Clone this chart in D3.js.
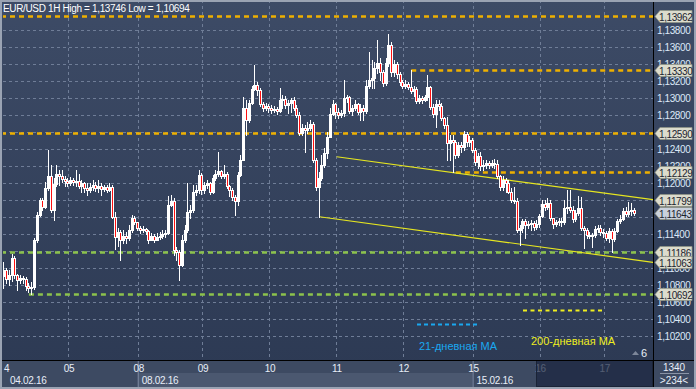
<!DOCTYPE html>
<html>
<head>
<meta charset="utf-8">
<script src="https://cdn.jsdelivr.net/npm/d3@7"></script>
<style>
  html, body { margin: 0; padding: 0; background: #2f3c55; }
  svg text { font-family: "Liberation Sans", Arial, sans-serif; }
</style>
</head>
<body>
<div id="chart"></div>
<script>
// ---- data (EUR/USD, 1H bars, 04.02.16 - 17.02.16) ----
const firstOpen = 1.1090;

const closes = [
  // 04
  1.1097,1.1087,1.1091,1.1111,1.1091,1.1086,1.1088,1.1087,1.1078,1.1076,1.1077,1.1133,1.1162,1.1180,1.1171,1.1194,1.1208,1.1168,1.1199,1.1210,1.1208,1.1204,1.1202,
  // 05
  1.1200,1.1203,1.1201,1.1202,1.1196,1.1200,1.1194,1.1191,1.1195,1.1197,1.1194,1.1196,1.1193,1.1195,1.1191,1.1195,1.1160,1.1136,1.1142,1.1133,1.1137,1.1135,1.1144,1.1159,1.1154,
  // 08
  1.1147,1.1144,1.1146,1.1143,1.1133,1.1137,1.1133,1.1136,1.1137,1.1140,1.1141,1.1174,1.1179,1.1121,1.1119,1.1103,1.1133,1.1144,1.1166,1.1168,1.1189,1.1191,1.1209,
  // 09
  1.1191,1.1197,1.1200,1.1189,1.1206,1.1210,1.1214,1.1208,1.1210,1.1196,1.1191,1.1183,1.1179,1.1209,1.1227,1.1288,1.1274,1.1294,1.1310,1.1315,1.1309,1.1293,1.1288,1.1290,
  // 10
  1.1288,1.1286,1.1287,1.1284,1.1297,1.1299,1.1291,1.1294,1.1297,1.1288,1.1280,1.1259,1.1264,1.1262,1.1264,1.1269,1.1227,1.1195,1.1206,1.1221,1.1235,1.1254,1.1281,1.1293,
  // 11
  1.1283,1.1280,1.1282,1.1300,1.1301,1.1284,1.1288,1.1293,1.1283,1.1288,1.1284,1.1314,1.1321,1.1323,1.1335,1.1341,1.1330,1.1317,1.1341,1.1362,1.1330,1.1340,1.1328,1.1319,
  // 12
  1.1314,1.1316,1.1313,1.1308,1.1310,1.1296,1.1300,1.1297,1.1301,1.1313,1.1289,1.1281,1.1293,1.1290,1.1276,1.1268,1.1247,1.1250,1.1248,1.1233,1.1244,1.1242,1.1257,1.1248,1.1250,
  // 15
  1.1239,1.1224,1.1231,1.1220,1.1221,1.1223,1.1221,1.1223,1.1222,1.1208,1.1195,1.1203,1.1200,1.1189,1.1180,1.1179,1.1144,1.1147,1.1155,1.1150,1.1151,1.1153,1.1148,1.1151,
  // 16
  1.1161,1.1175,1.1171,1.1176,1.1159,1.1151,1.1154,1.1155,1.1154,1.1170,1.1171,1.1168,1.1157,1.1164,1.1170,1.1147,1.1144,1.1139,1.1137,1.1139,1.1146,1.1147,1.1142,
  // 17
  1.1141,1.1135,1.1143,1.1134,1.1143,1.1155,1.1157,1.1167,1.1163,1.1167,1.1168,1.11643
];

const highs = [
  1.1107,1.1100,1.1097,1.1116,1.1114,1.1093,1.1091,1.1090,1.1089,1.1082,1.1083,1.1135,1.1166,1.1182,1.1182,1.1201,1.1239,1.1221,1.1206,1.1221,1.1215,1.1215,1.1208,
  1.1206,1.1207,1.1206,1.1215,1.1210,1.1203,1.1201,1.1200,1.1200,1.1203,1.1201,1.1203,1.1200,1.1197,1.1197,1.1200,1.1197,1.1166,1.1147,1.1144,1.1144,1.1142,1.1150,1.1162,1.1161,
  1.1154,1.1149,1.1149,1.1147,1.1144,1.1141,1.1140,1.1141,1.1142,1.1144,1.1144,1.1184,1.1186,1.1182,1.1124,1.1121,1.1139,1.1150,1.1200,1.1174,1.1197,1.1197,1.1215,
  1.1211,1.1201,1.1203,1.1201,1.1209,1.1215,1.1236,1.1215,1.1221,1.1213,1.1197,1.1194,1.1186,1.1213,1.1233,1.1301,1.1297,1.1297,1.1314,1.1339,1.1319,1.1311,1.1295,1.1294,
  1.1293,1.1291,1.1290,1.1289,1.1311,1.1303,1.1302,1.1297,1.1300,1.1301,1.1291,1.1283,1.1269,1.1268,1.1271,1.1274,1.1271,1.1229,1.1213,1.1233,1.1241,1.1260,1.1288,1.1297,
  1.1294,1.1288,1.1286,1.1321,1.1303,1.1302,1.1291,1.1297,1.1294,1.1293,1.1291,1.1321,1.1354,1.1344,1.1342,1.1368,1.1347,1.1333,1.1347,1.1375,1.1366,1.1344,1.1342,1.1330,
  1.1321,1.1321,1.1319,1.1333,1.1314,1.1313,1.1303,1.1302,1.1303,1.1327,1.1314,1.1293,1.1297,1.1297,1.1294,1.1277,1.1277,1.1256,1.1256,1.1250,1.1248,1.1248,1.1261,1.1260,1.1255,
  1.1253,1.1241,1.1235,1.1236,1.1227,1.1227,1.1226,1.1227,1.1228,1.1227,1.1209,1.1208,1.1206,1.1203,1.1194,1.1195,1.1182,1.1150,1.1157,1.1157,1.1155,1.1156,1.1155,1.1156,
  1.1163,1.1180,1.1180,1.1182,1.1180,1.1159,1.1156,1.1159,1.1159,1.1180,1.1191,1.1191,1.1173,1.1168,1.1184,1.1183,1.1149,1.1147,1.1142,1.1141,1.1149,1.1150,1.1150,
  1.1146,1.1143,1.1147,1.1146,1.1147,1.1157,1.1162,1.1170,1.1171,1.1177,1.1176,1.1170
];

const lows = [
  1.1076,1.1082,1.1080,1.1084,1.1088,1.1074,1.1082,1.1082,1.1074,1.1071,1.1069,1.1075,1.1130,1.1161,1.1168,1.1170,1.1191,1.1166,1.1156,1.1196,1.1197,1.1201,1.1196,
  1.1196,1.1197,1.1197,1.1196,1.1194,1.1189,1.1189,1.1186,1.1189,1.1191,1.1190,1.1189,1.1186,1.1190,1.1189,1.1190,1.1159,1.1122,1.1126,1.1109,1.1129,1.1129,1.1133,1.1142,1.1151,
  1.1144,1.1141,1.1142,1.1140,1.1129,1.1133,1.1130,1.1133,1.1134,1.1135,1.1136,1.1140,1.1173,1.1115,1.1109,1.1086,1.1102,1.1130,1.1142,1.1159,1.1166,1.1186,1.1188,
  1.1187,1.1188,1.1194,1.1187,1.1188,1.1203,1.1208,1.1206,1.1206,1.1194,1.1184,1.1180,1.1162,1.1174,1.1208,1.1227,1.1256,1.1271,1.1293,1.1309,1.1303,1.1290,1.1284,1.1286,
  1.1283,1.1282,1.1283,1.1281,1.1283,1.1288,1.1288,1.1282,1.1283,1.1286,1.1277,1.1256,1.1256,1.1236,1.1259,1.1262,1.1224,1.1191,1.1160,1.1203,1.1219,1.1229,1.1254,1.1280,
  1.1276,1.1276,1.1277,1.1279,1.1295,1.1282,1.1280,1.1286,1.1281,1.1274,1.1274,1.1282,1.1311,1.1311,1.1311,1.1329,1.1321,1.1314,1.1315,1.1337,1.1326,1.1326,1.1323,1.1315,
  1.1311,1.1311,1.1310,1.1306,1.1302,1.1294,1.1294,1.1294,1.1296,1.1297,1.1287,1.1277,1.1266,1.1286,1.1274,1.1264,1.1227,1.1227,1.1213,1.1229,1.1230,1.1236,1.1239,1.1243,1.1243,
  1.1236,1.1221,1.1217,1.1215,1.1215,1.1217,1.1217,1.1219,1.1217,1.1206,1.1191,1.1191,1.1189,1.1188,1.1177,1.1176,1.1142,1.1127,1.1142,1.1135,1.1147,1.1144,1.1144,1.1146,
  1.1148,1.1160,1.1168,1.1169,1.1156,1.1147,1.1149,1.1150,1.1149,1.1151,1.1164,1.1166,1.1154,1.1155,1.1162,1.1144,1.1123,1.1135,1.1135,1.1124,1.1136,1.1142,1.1139,
  1.1136,1.1133,1.1130,1.1119,1.1131,1.1142,1.1153,1.1156,1.1161,1.1161,1.1162,1.1162
];

// day starts (bar index) and labels as shown on the axis
const dayStarts = [0, 24, 49, 72, 96, 120, 144, 169, 193, 216];
const dayLabels = ["4", "05", "08", "09", "10", "11", "12", "15", "16", "17"];
const dateLabels = [{i: 0, t: "04.02.16"}, {i: 49, t: "08.02.16"}, {i: 169, t: "15.02.16"}];

const priceTicks = d3.range(1.102, 1.1385, 0.002);

// horizontal levels: value + first bar
const orangeLevels = [{v: 1.13962, from: 0}, {v: 1.13330, from: 147}, {v: 1.12590, from: 0}, {v: 1.12129, from: 163}];
const greenLevels = [{v: 1.11186, from: 0}, {v: 1.10692, from: 10}];

// trend channel
const channelUpper = [[120.3, 1.12306], [234, 1.11799]];
const channelLower = [[114.1, 1.11600], [234, 1.11063]];

const tagLevels = [1.13962, 1.13330, 1.12590, 1.12129, 1.11799, 1.11186, 1.11063, 1.10692];
const lastPrice = 1.11643;

// ---- layout ----
const W = 696, H = 389;
const plotRight = 653, plotBottom = 360;

const svg = d3.select("#chart").append("svg")
  .attr("width", W).attr("height", H)
  .style("display", "block");

const defs = svg.append("defs");
const bg = defs.append("linearGradient").attr("id", "bg").attr("x1", 0).attr("y1", 0).attr("x2", 0).attr("y2", 1);
bg.append("stop").attr("offset", "0%").attr("stop-color", "#3d4b66");
bg.append("stop").attr("offset", "100%").attr("stop-color", "#2c3953");

defs.append("clipPath").attr("id", "plotClip")
  .append("rect").attr("x", 3).attr("y", 0).attr("width", plotRight - 3).attr("height", plotBottom);

svg.append("rect").attr("width", W).attr("height", H).attr("fill", "url(#bg)");

const x = d3.scaleLinear().domain([0, 234]).range([1, 654]);
const y = d3.scaleLinear().domain([1.10, 1.14]).range([352.77, 12.77]);

const plot = svg.append("g").attr("clip-path", "url(#plotClip)");

// grid
plot.append("g").selectAll("line")
  .data(priceTicks)
  .join("line")
  .attr("x1", 3).attr("x2", plotRight)
  .attr("y1", d => Math.round(y(d)) + 0.5).attr("y2", d => Math.round(y(d)) + 0.5)
  .attr("stroke", "#6f7d97").attr("stroke-dasharray", "3,3");

plot.append("g").selectAll("line")
  .data(dayStarts.slice(1))
  .join("line")
  .attr("x1", d => Math.round(x(d)) + 0.5).attr("x2", d => Math.round(x(d)) + 0.5)
  .attr("y1", 0).attr("y2", plotBottom)
  .attr("stroke", "#6f7d97").attr("stroke-dasharray", "3,3");

// level lines
function levelLines(data, color) {
  plot.append("g").selectAll("line")
    .data(data)
    .join("line")
    .attr("x1", d => x(d.from)).attr("x2", plotRight)
    .attr("y1", d => Math.round(y(d.v)) + 0.5).attr("y2", d => Math.round(y(d.v)) + 0.5)
    .attr("stroke", color).attr("stroke-width", 2.5).attr("stroke-dasharray", "5,4");
}
levelLines(orangeLevels, "#eeb000");
levelLines(greenLevels, "#8cc24c");

// channel
const chLine = d3.line().x(d => x(d[0])).y(d => y(d[1]));
[channelUpper, channelLower].forEach(c => {
  plot.append("path").attr("d", chLine(c))
    .attr("fill", "none").attr("stroke", "#e6e620").attr("stroke-width", 1.2);
});

// candles
const bars = closes.map((c, i) => ({
  i: i + 1,
  o: i === 0 ? firstOpen : closes[i - 1],
  h: highs[i], l: lows[i], c: c
}));

const cg = plot.append("g");
cg.selectAll("line")
  .data(bars)
  .join("line")
  .attr("x1", d => Math.floor(x(d.i)) + 0.5).attr("x2", d => Math.floor(x(d.i)) + 0.5)
  .attr("y1", d => Math.round(y(d.h))).attr("y2", d => Math.round(y(d.l)) + 1)
  .attr("stroke", "#ffffff").attr("shape-rendering", "crispEdges");

cg.selectAll("rect")
  .data(bars)
  .join("rect")
  .attr("x", d => Math.floor(x(d.i)) - 0.5)
  .attr("width", 2)
  .attr("y", d => Math.round(y(Math.max(d.o, d.c))) + 0.5)
  .attr("height", d => Math.max(0, Math.round(y(Math.min(d.o, d.c))) - Math.round(y(Math.max(d.o, d.c)))))
  .attr("fill", d => d.c < d.o ? "#ff1010" : "#ffffff")
  .attr("stroke", "#ffffff").attr("stroke-width", 1)
  .attr("shape-rendering", "crispEdges");

// title
svg.append("text").attr("x", 3).attr("y", 12)
  .attr("font-size", 10).attr("letter-spacing", -0.35)
  .attr("fill", "#ffffff")
  .text("EUR/USD 1H High = 1,13746 Low = 1,10694");

// legend
svg.append("line").attr("x1", 417).attr("x2", 478).attr("y1", 324.5).attr("y2", 324.5)
  .attr("stroke", "#1aa8f0").attr("stroke-width", 2).attr("stroke-dasharray", "4,3");
svg.append("text").attr("x", 419).attr("y", 350).attr("font-size", 11).attr("fill", "#1aa8f0")
  .text("21-дневная МА");
svg.append("line").attr("x1", 523).attr("x2", 604).attr("y1", 310.5).attr("y2", 310.5)
  .attr("stroke", "#f0ee20").attr("stroke-width", 2).attr("stroke-dasharray", "4,3.5");
svg.append("text").attr("x", 531).attr("y", 345).attr("font-size", 11).attr("fill", "#f0ee20")
  .text("200-дневная МА");

// scroll marker
svg.append("path").attr("d", "M632,355 L635.5,351 L639,355 Z").attr("fill", "#7d879a");
svg.append("text").attr("x", 641).attr("y", 357).attr("font-size", 11).attr("fill", "#e8eef8").text("6");

// ---- price axis ----
const fmt = v => d3.format(".5f")(v).replace(".", ",");

// labels sitting right under a tag are hidden by it
const visibleTicks = priceTicks.filter(t =>
  !tagLevels.concat([lastPrice]).some(v => Math.abs(y(v) - y(t)) < 4));

svg.append("g").selectAll("text")
  .data(visibleTicks)
  .join("text")
  .attr("x", 657).attr("y", d => y(d) + 4)
  .attr("font-size", 10).attr("letter-spacing", -0.4)
  .attr("fill", "#dce8f8")
  .text(fmt);

function tag(v, fill) {
  const yy = Math.round(y(v)) + 0.5;
  const g = svg.append("g");
  g.append("path")
    .attr("d", `M655,${yy} L660,${yy - 6} L692,${yy - 6} L692,${yy + 6} L660,${yy + 6} Z`)
    .attr("fill", fill).attr("stroke", "#8f9486").attr("stroke-width", 0.8);
  g.append("text").attr("x", 659).attr("y", yy + 4)
    .attr("font-size", 10).attr("letter-spacing", -0.4)
    .attr("fill", "#1c2430").text(fmt(v));
}
tagLevels.forEach(v => tag(v, "#dcdccd"));
tag(lastPrice, "#c9d1dc");

// ---- time axis ----
svg.append("rect").attr("x", 0).attr("y", plotBottom).attr("width", plotRight).attr("height", 29).attr("fill", "#3d4a62");
svg.append("rect").attr("x", x(49)).attr("y", 373).attr("width", x(169) - x(49)).attr("height", 14).attr("fill", "#4b5870");
svg.append("line").attr("x1", x(49) + 0.5).attr("x2", x(49) + 0.5).attr("y1", 361).attr("y2", 387).attr("stroke", "#7d8aa2");
svg.append("line").attr("x1", x(169) + 0.5).attr("x2", x(169) + 0.5).attr("y1", 361).attr("y2", 387).attr("stroke", "#7d8aa2");

const ax = svg.append("g");
ax.selectAll("text.day")
  .data(dayStarts)
  .join("text")
  .attr("class", "day")
  .attr("x", d => d === 0 ? 4 : x(d) + 1).attr("y", 372)
  .attr("text-anchor", d => d === 0 ? "start" : "middle")
  .attr("font-size", 10).attr("letter-spacing", -0.3)
  .attr("fill", "#e8eef8")
  .text((d, i) => dayLabels[i]);

ax.selectAll("text.date")
  .data(dateLabels)
  .join("text")
  .attr("class", "date")
  .attr("x", d => x(d.i) + (d.i === 0 ? 9 : 4)).attr("y", 384)
  .attr("font-size", 10).attr("letter-spacing", -0.3)
  .attr("fill", "#e8eef8")
  .text(d => d.t);

// dimmed box over the last days on the time axis
svg.append("rect").attr("x", Math.round(x(192.2)) - 0.5).attr("y", plotBottom + 0.5)
  .attr("width", plotRight - Math.round(x(192.2))).attr("height", 26)
  .attr("fill", "#1b2640").attr("fill-opacity", 0.72).attr("stroke", "#1a2336");

// right-bottom info box
svg.append("rect").attr("x", plotRight).attr("y", plotBottom).attr("width", W - plotRight).attr("height", 29).attr("fill", "#3d4a62");
svg.append("text").attr("x", 674).attr("y", 371).attr("text-anchor", "middle")
  .attr("font-size", 10).attr("fill", "#e8eef8").text("1340");
svg.append("line").attr("x1", 660).attr("x2", 689).attr("y1", 373.5).attr("y2", 373.5).attr("stroke", "#8a94a6");
svg.append("text").attr("x", 674).attr("y", 383.5).attr("text-anchor", "middle")
  .attr("font-size", 10).attr("fill", "#e8eef8").text(">234<");

// separators and frame
svg.append("line").attr("x1", plotRight + 0.5).attr("x2", plotRight + 0.5).attr("y1", 0).attr("y2", H).attr("stroke", "#000");
svg.append("line").attr("x1", 0).attr("x2", W).attr("y1", plotBottom + 0.5).attr("y2", plotBottom + 0.5).attr("stroke", "#000");
svg.append("rect").attr("x", 1).attr("y", 1).attr("width", W - 2).attr("height", H - 2)
  .attr("fill", "none").attr("stroke", "#9aa3b3").attr("stroke-width", 2);
</script>
</body>
</html>
